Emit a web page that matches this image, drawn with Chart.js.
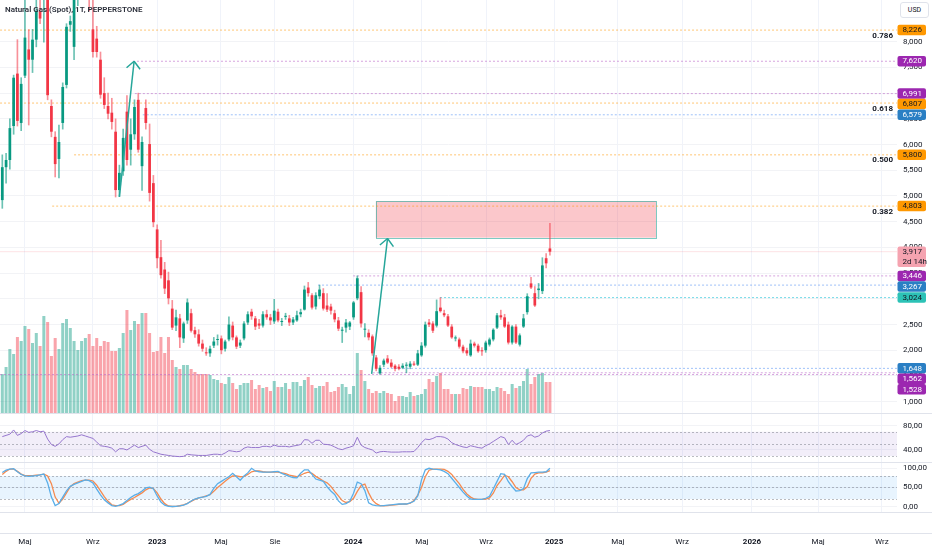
<!DOCTYPE html>
<html lang="pl">
<head>
<meta charset="utf-8">
<title>Natural Gas (Spot), 1T, PEPPERSTONE</title>
<script src="https://cdn.jsdelivr.net/npm/chart.js@4.4.1/dist/chart.umd.min.js"></script>
<style>
  html, body { margin: 0; padding: 0; background: #ffffff; }
  #wrap { position: relative; width: 932px; height: 550px; overflow: hidden; font-family: Roboto, sans-serif; }
  #wrap canvas { position: absolute; left: 0; }
  #title { position: absolute; left: 5px; top: 5px; font-size: 8px; font-weight: 600; color: #2a2e39; white-space: nowrap; }
  #usd { position: absolute; left: 900px; top: 2px; width: 29px; height: 16px; box-sizing: border-box; border: 1px solid #e0e3eb; border-radius: 3px; font-size: 7px; line-height: 14px; text-align: center; color: #131722; background: #fff; }
</style>
</head>
<body>
<div id="wrap">
  <canvas id="priceChart" width="932" height="413" style="top:0"></canvas>
  <canvas id="rsiChart" width="932" height="49" style="top:413px"></canvas>
  <canvas id="stochChart" width="932" height="88" style="top:462px"></canvas>
  <div id="title">Natural Gas (Spot), 1T, PEPPERSTONE</div>
  <div id="usd">USD</div>
</div>
<script>
// Weekly candles, late Mar 2022 -> Dec 2024 (index = week number)
const open = [
  4920, 5560, 5700, 6360, 7380, 6420, 7340, 7850, 7650, 8040,
  8590, 8900, 9300, 6750, 6150, 5720, 6420, 7160, 8330, 7900,
  9000, 9300, 9600, 9800, 8240, 8060, 7650, 7000, 6750, 6620,
  6250, 5115, 5480, 6640, 5900, 6200, 6870, 5580, 6710, 6010,
  5250, 4350, 3810, 3570, 3360, 2810, 2480, 2620, 2230, 2580,
  2720, 2390, 2310, 2130, 1960, 1940, 2090, 2200, 2230, 2030,
  2210, 2480, 2250, 2090, 2230, 2540, 2750, 2620, 2520, 2480,
  2700, 2640, 2560, 2750, 2550, 2650, 2620, 2540, 2580, 2700,
  2790, 3220, 3070, 2850, 3050, 3110, 2870, 2850, 2720, 2580,
  2380, 2440, 2460, 2640, 3010, 3130, 2400, 2340, 2270, 1860,
  1550, 1720, 1840, 1760, 1700, 1680, 1660, 1700, 1680, 1740,
  1720, 1900, 2090, 2540, 2520, 2480, 2830, 2720, 2660, 2460,
  2230, 2210, 2070, 2000, 1900, 2130, 2090, 1990, 2000, 2110,
  2210, 2440, 2680, 2640, 2500, 2150, 2460, 2110, 2460, 2740,
  3300, 3110, 3170, 3150, 3790, 3980
];
const high = [
  5800, 5830, 6500, 7350, 8040, 7300, 8900, 8235, 8240, 8900,
  9000, 9600, 9400, 6870, 6250, 6380, 7200, 8350, 8500, 9200,
  9500, 9900, 10000, 9900, 9000, 8300, 7800, 7300, 7000, 6900,
  6500, 5600, 6300, 6950, 6500, 6870, 7000, 6150, 6870, 6400,
  5400, 4440, 4140, 3710, 3520, 2970, 2780, 2700, 2550, 3000,
  2800, 2450, 2400, 2200, 2050, 2080, 2250, 2300, 2280, 2200,
  2650, 2550, 2280, 2200, 2560, 2750, 2800, 2660, 2600, 2750,
  2780, 2700, 2990, 2800, 2620, 2720, 2680, 2640, 2760, 2800,
  3250, 3320, 3100, 3120, 3267, 3200, 3100, 2900, 2780, 2640,
  2450, 2600, 2560, 2950, 3446, 3240, 2520, 2400, 2300, 1900,
  1700, 1830, 1900, 1820, 1720, 1720, 1740, 1760, 1780, 1780,
  2000, 2150, 2550, 2600, 2560, 2980, 3024, 2780, 2700, 2500,
  2280, 2240, 2100, 2040, 2200, 2160, 2120, 2050, 2180, 2240,
  2420, 2720, 2780, 2700, 2550, 2480, 2500, 2320, 2700, 3100,
  3420, 3240, 3300, 3800, 3880, 4470
];
const low = [
  4760, 5250, 5520, 6200, 6360, 6270, 7300, 6380, 7400, 7900,
  8350, 7990, 6870, 6150, 5370, 5350, 6300, 7100, 8200, 7650,
  8700, 9000, 9200, 8600, 7700, 7700, 6900, 6700, 6500, 6300,
  4980, 4990, 5400, 5600, 5600, 6100, 5850, 5110, 6300, 4900,
  4400, 3600, 3400, 3100, 2900, 2400, 2380, 2050, 2150, 2520,
  2350, 2250, 2080, 1980, 1900, 1880, 2050, 2100, 1930, 1980,
  2180, 2200, 2030, 2050, 2200, 2500, 2600, 2400, 2420, 2450,
  2600, 2500, 2520, 2550, 2480, 2600, 2480, 2500, 2560, 2650,
  2780, 3050, 2800, 2800, 3000, 2780, 2750, 2700, 2550, 2380,
  2150, 2350, 2400, 2600, 2980, 2450, 2260, 2200, 1900, 1600,
  1528, 1680, 1740, 1660, 1600, 1620, 1640, 1562, 1640, 1700,
  1700, 1880, 2060, 2460, 2340, 2450, 2740, 2650, 2460, 2230,
  2180, 2040, 1950, 1900, 1880, 2060, 1960, 1900, 1960, 2080,
  2180, 2420, 2600, 2440, 2120, 2120, 2130, 2080, 2440, 2700,
  3200, 2850, 3000, 3100, 3600, 3850
];
const close = [
  5560, 5700, 6320, 7300, 6460, 7180, 8080, 7650, 8040, 8600,
  8450, 9300, 6960, 6250, 5620, 6050, 7120, 8290, 8400, 9000,
  9300, 9600, 9800, 9000, 7800, 7800, 6970, 6770, 6600, 6440,
  5115, 5450, 6130, 5700, 6200, 6730, 5900, 6050, 6420, 5060,
  4490, 3790, 3460, 3200, 3010, 2440, 2640, 2250, 2520, 2930,
  2380, 2310, 2130, 2030, 1940, 2030, 2170, 2210, 2000, 2170,
  2500, 2250, 2070, 2150, 2520, 2700, 2660, 2460, 2480, 2700,
  2640, 2580, 2770, 2580, 2560, 2670, 2540, 2600, 2680, 2740,
  3180, 3110, 2830, 3070, 3180, 2810, 2790, 2770, 2600, 2420,
  2400, 2540, 2540, 2930, 3400, 2520, 2400, 2250, 1940, 1640,
  1660, 1800, 1760, 1680, 1640, 1640, 1700, 1700, 1740, 1720,
  1940, 2090, 2500, 2500, 2380, 2760, 2760, 2680, 2480, 2250,
  2230, 2070, 1980, 1940, 2130, 2090, 1980, 1980, 2150, 2210,
  2400, 2680, 2640, 2460, 2150, 2460, 2150, 2290, 2620, 3050,
  3220, 2870, 3200, 3650, 3690, 3917
];
const volume = [
  39, 46, 64, 59, 76, 72, 87, 84, 70, 80,
  67, 97, 91, 57, 75, 64, 90, 94, 85, 72,
  63, 72, 75, 79, 67, 75, 67, 72, 71, 62,
  62, 65, 80, 103, 83, 92, 89, 100, 100, 80,
  61, 62, 76, 60, 76, 53, 46, 44, 48, 48,
  44, 41, 39, 39, 39, 38, 34, 33, 30, 29,
  36, 30, 24, 28, 30, 30, 33, 24, 28, 25,
  26, 22, 32, 26, 26, 30, 24, 31, 31, 27,
  33, 36, 28, 25, 27, 27, 31, 21, 22, 26,
  29, 26, 19, 27, 60, 43, 32, 24, 20, 22,
  20, 22, 20, 19, 12, 17, 17, 16, 21, 17,
  18, 19, 24, 34, 31, 37, 40, 24, 24, 19,
  19, 19, 25, 24, 27, 26, 26, 26, 24, 24,
  22, 26, 25, 22, 19, 29, 25, 27, 32, 44,
  29, 36, 39, 40, 31, 31
];
const rsi = [
  62, 64, 66, 73, 64, 67, 72, 69, 70, 72,
  70, 71, 58, 49, 46, 50, 57, 62, 61, 62,
  63, 65, 63, 61, 59, 53, 47, 46, 45, 43,
  37, 42, 42, 40, 44, 48, 44, 46, 48, 41,
  37, 35, 33, 32, 31, 30, 29.5, 29, 29.5, 33,
  32, 31.5, 31, 31, 31, 32, 33, 33, 32, 35,
  39, 38, 37, 38, 43, 45, 44, 44, 44, 46,
  46, 45, 48, 46, 46, 46, 45, 46.5, 47.5, 49,
  57, 56.5, 51, 56, 56, 49.5, 49, 48, 45, 42,
  40.5, 43, 44.6, 47, 61, 48, 44, 42, 40, 35,
  37, 37.6, 37, 36.5, 36.5, 36.5, 37, 37, 37, 37.5,
  44, 52, 58, 57, 59, 62, 62, 61, 58, 52,
  49, 47, 45, 44, 47, 45.5, 44, 43, 47, 50,
  54, 58, 62, 60, 49, 56, 49, 52, 56, 63,
  65, 61, 63, 68, 71, 72
];
const stochK = [
  89, 95, 98, 99, 91, 84, 80, 79, 80, 81,
  83, 85, 62, 25, 3, 8, 25, 41, 53, 58,
  62, 66, 70, 68, 62, 46, 31, 18, 10, 3,
  1, 4, 8, 16, 24, 30, 34, 41, 49, 51,
  47, 28, 12, 4, 1, 0.5, 1, 2, 4, 8,
  15, 20, 23, 25, 27, 32, 48, 60, 66, 72,
  78, 87, 78, 69, 80, 88, 100, 93, 91, 90,
  90, 90, 91, 92, 87, 83, 79, 76, 75, 87,
  96, 96, 84, 72, 69, 66, 52, 41, 32, 15,
  6, 8, 14, 35, 64, 60, 42, 10, 5, 3,
  2, 3, 4, 5, 6, 7, 7, 7, 10, 14,
  28, 70, 96, 100, 98, 97, 96, 92, 86, 74,
  62, 50, 38, 28, 20, 19, 19, 19, 22, 27,
  46, 66, 86, 84, 65, 52, 41, 42, 47, 73,
  88, 89, 90, 90, 91, 100
];
const stochD = [
  84, 92, 98, 98, 92, 85, 81, 81, 81, 82,
  83, 85, 80, 60, 25, 9, 20, 36, 52, 60,
  64, 68, 69, 69, 67, 56, 41, 26, 14, 5,
  3, 3, 6, 13, 19, 24, 30, 36, 44, 49,
  47, 36, 20, 8, 2, 0.5, 1, 2.5, 5, 9,
  14, 19, 23, 25, 28, 31, 40, 50, 58, 66,
  74, 80, 80, 78, 79, 84, 91, 93, 93, 91,
  90, 90, 90, 90, 88, 86, 82, 80, 78, 82,
  87, 90, 87, 79, 73, 67, 62, 53, 40, 28,
  16, 11, 13, 22, 40, 55, 59, 36, 17, 8,
  3, 2.5, 3, 4, 5, 6, 6.5, 7, 9, 16,
  30, 50, 78, 95, 98, 98, 98, 97, 92, 84,
  72, 60, 45, 33, 25, 20, 19, 19, 20, 23,
  35, 55, 68, 82, 78, 65, 50, 44, 44, 52,
  74, 85, 88, 88, 90, 94
];

// Time axis labels (week index where each month/year label sits)
const tickLabels = ['Maj', 'Wrz', '2023', 'Maj', 'Sie', '2024', 'Maj', 'Wrz', '2025', 'Maj', 'Wrz', '2026', 'Maj', 'Wrz'];
const tickWeeks = [6.0, 24.0, 41.0, 57.9, 72.2, 92.9, 111.1, 128.1, 146.1, 163.0, 180.0, 198.5, 216.0, 232.9];
const priceTicks = [1000, 1500, 2000, 2500, 3000, 3500, 4000, 4500, 5000, 5500, 6000, 6500, 7000, 7500, 8000];
const rsiTicks = [40, 80];
const stochTicks = [0, 50, 100];
const rsiLevels = [70, 50, 30];
const stochLevels = [80, 50, 20];

// Drawings on the price pane
const levelPrices = [8226, 7620, 6991, 6807, 6579, 5800, 4803, 3446, 3267, 3024, 1648, 1562, 1528];
const levelFrom = [-0.6, 34.6, 35.1, -0.6, 37.2, 19.0, 13.2, 92.9, 83.6, 115.9, 100.8, 98.1, -0.6];
const levelKinds = ['fib', 'purple', 'purple', 'fib', 'blue', 'fib', 'fib', 'purple', 'blue', 'teal', 'blue', 'purple', 'purple'];
const fibRatios = ['0.786', '0.618', '0.500', '0.382'];
const fibPrices = [8226, 6807, 5800, 4803];
const arrowFrom = [[31.0, 4984], [97.8, 1540]];
const arrowTo = [[34.9, 7620], [102.0, 4173]];
const boxWeeks = [98.9, 173.1];
const boxPrices = [4900, 4190];
const barCountdown = '2d 14h';

// ---- styling ----
Chart.defaults.font.family = 'Roboto, sans-serif';
Chart.defaults.font.size = 8;
Chart.defaults.color = '#131722';

const X_MIN = -0.61, X_MAX = 236.9, AXIS_W = 35;
const UP = '#089981', DOWN = '#f23645';
const levelLine = { fib: 'rgba(255, 152, 0, 0.55)', purple: 'rgba(186, 104, 200, 0.6)', blue: 'rgba(66, 133, 244, 0.5)', teal: 'rgba(0, 188, 212, 0.55)' };
const tagStyle = { fib: ['#ff9800', '#131722'], purple: ['#9c27b0', '#ffffff'], blue: ['#2a7fc4', '#ffffff'], teal: ['#2cc2b6', '#131722'], last: ['#f5a3b0', '#131722'] };

const weeks = close.map((_, i) => i);
const isUp = close.map((c, i) => c >= open[i]);
const fmtPrice = v => v.toLocaleString('en-US');
const fmtPct = v => v.toFixed(2).replace('.', ',');

function weekAxis(showLabels) {
    return {
        type: 'linear',
        min: X_MIN,
        max: X_MAX,
        offset: false,
        grid: { color: '#f0f3fa', drawTicks: false, offset: false },
        border: { display: false },
        afterBuildTicks: axis => { axis.ticks = tickWeeks.map(v => ({ value: v })); },
        afterFit: axis => { axis.height = showLabels ? 38 : 0; axis.paddingLeft = 0; axis.paddingRight = 0; },
        ticks: {
            display: showLabels,
            autoSkip: false,
            maxRotation: 0,
            padding: 25,
            callback: (v, i) => tickLabels[i],
            font: ctx => ({ size: 8, weight: /^\d{4}$/.test(tickLabels[ctx.index]) ? 'bold' : 'normal' })
        }
    };
}

function valueAxis(min, max, ticks, fmt) {
    return {
        position: 'right',
        min: min,
        max: max,
        grid: { color: '#f2f3f6', drawTicks: false },
        border: { display: false },
        afterBuildTicks: axis => { axis.ticks = ticks.map(v => ({ value: v })); },
        afterFit: axis => { axis.width = AXIS_W; axis.paddingTop = 0; axis.paddingBottom = 0; },
        ticks: { padding: 6, crossAlign: 'near', callback: fmt }
    };
}

const baseOptions = {
    responsive: false,
    animation: false,
    events: [],
    layout: { padding: 0 },
    plugins: { legend: { display: false }, tooltip: { enabled: false } }
};

// Pane separators (light grey lines across the full width)
function separators(withAxisGap) {
    return {
        id: 'separators',
        afterDraw(chart) {
            const { ctx, width, chartArea: a } = chart;
            const ys = [0.5];
            if (withAxisGap) ys.push(a.bottom + 0.5, a.bottom + 21.5);
            ctx.save();
            ctx.strokeStyle = '#e0e3eb';
            ctx.lineWidth = 1;
            ys.forEach(py => {
                ctx.beginPath();
                ctx.moveTo(0, py);
                ctx.lineTo(width, py);
                ctx.stroke();
            });
            ctx.restore();
        }
    };
}

// Oscillator band + dashed guide levels
function guides(levels, bandColor) {
    return {
        id: 'guides',
        beforeDatasetsDraw(chart) {
            const { ctx, chartArea: a, scales: { y } } = chart;
            const top = y.getPixelForValue(levels[0]);
            const bottom = y.getPixelForValue(levels[levels.length - 1]);
            ctx.save();
            ctx.fillStyle = bandColor;
            ctx.fillRect(a.left, top, a.right - a.left, bottom - top);
            ctx.strokeStyle = 'rgba(120, 123, 134, 0.5)';
            ctx.lineWidth = 1;
            ctx.setLineDash([2, 2]);
            levels.forEach(v => {
                const py = Math.round(y.getPixelForValue(v)) + 0.5;
                ctx.beginPath();
                ctx.moveTo(a.left, py);
                ctx.lineTo(a.right, py);
                ctx.stroke();
            });
            ctx.restore();
        }
    };
}

// Target box, arrow heads, fib ratios and price tags on the price pane
const priceOverlay = {
    id: 'priceOverlay',
    beforeDatasetsDraw(chart) {
        const { ctx, scales: { x, y } } = chart;
        const x0 = x.getPixelForValue(boxWeeks[0]), x1 = x.getPixelForValue(boxWeeks[1]);
        const y0 = y.getPixelForValue(boxPrices[0]), y1 = y.getPixelForValue(boxPrices[1]);
        ctx.save();
        ctx.fillStyle = 'rgba(242, 54, 69, 0.28)';
        ctx.fillRect(x0, y0, x1 - x0, y1 - y0);
        ctx.strokeStyle = 'rgba(38, 166, 154, 0.6)';
        ctx.lineWidth = 1;
        ctx.strokeRect(Math.round(x0) + 0.5, Math.round(y0) + 0.5, Math.round(x1 - x0), Math.round(y1 - y0));
        ctx.restore();
    },
    afterDatasetsDraw(chart) {
        const { ctx, chartArea: a, scales: { x, y } } = chart;
        ctx.save();
        ctx.strokeStyle = '#26a69a';
        ctx.lineWidth = 1.5;
        arrowTo.forEach((tip, i) => {
            const from = arrowFrom[i];
            const tx = x.getPixelForValue(tip[0]), ty = y.getPixelForValue(tip[1]);
            const fx = x.getPixelForValue(from[0]), fy = y.getPixelForValue(from[1]);
            const ang = Math.atan2(ty - fy, tx - fx);
            ctx.beginPath();
            [-1, 1].forEach(s => {
                ctx.moveTo(tx, ty);
                ctx.lineTo(tx - 10 * Math.cos(ang + s * 0.75), ty - 10 * Math.sin(ang + s * 0.75));
            });
            ctx.stroke();
        });
        ctx.font = 'bold 8px Roboto, sans-serif';
        ctx.textAlign = 'right';
        ctx.textBaseline = 'middle';
        ctx.fillStyle = '#131722';
        fibPrices.forEach((p, i) => ctx.fillText(fibRatios[i], a.right - 4, y.getPixelForValue(p) + 5.5));
        ctx.restore();
    },
    afterDraw(chart) {
        const { ctx, chartArea: a, scales: { y } } = chart;
        const last = close.length - 1;
        const tags = levelPrices.map((p, i) => ({ price: p, kind: levelKinds[i], rows: [fmtPrice(p)] }));
        tags.push({ price: close[last], kind: 'last', rows: [fmtPrice(close[last]), barCountdown] });
        tags.forEach(t => { t.py = y.getPixelForValue(t.price); });
        tags.sort((m, n) => m.py - n.py);
        let floor = -Infinity;
        ctx.save();
        ctx.font = '8px Roboto, sans-serif';
        ctx.textBaseline = 'middle';
        ctx.textAlign = 'left';
        tags.forEach(t => {
            const h = t.rows.length === 1 ? 10.5 : 20.5;
            const top = Math.max(t.py - 5.25, floor);
            floor = top + h;
            const [bg, fg] = tagStyle[t.kind];
            ctx.fillStyle = bg;
            ctx.beginPath();
            ctx.roundRect(a.right + 0.5, top, 28.5, h, 2);
            ctx.fill();
            ctx.fillStyle = fg;
            t.rows.forEach((r, k) => ctx.fillText(r, a.right + 5.5, top + 5.5 + k * 10));
        });
        ctx.restore();
    }
};

// ---- price pane ----
const levelDatasets = levelPrices.map((p, i) => ({
    type: 'line',
    data: [{ x: levelFrom[i], y: p }, { x: X_MAX, y: p }],
    borderColor: levelLine[levelKinds[i]],
    borderWidth: 1,
    borderDash: [2, 2],
    pointRadius: 0,
    order: 3
}));

const arrowDatasets = arrowFrom.map((f, i) => ({
    type: 'line',
    data: [{ x: f[0], y: f[1] }, { x: arrowTo[i][0], y: arrowTo[i][1] }],
    borderColor: '#26a69a',
    borderWidth: 1.5,
    pointRadius: 0,
    order: -1
}));

new Chart(document.getElementById('priceChart'), {
    type: 'bar',
    data: {
        datasets: [
            {
                label: 'Wicks',
                data: weeks.map(i => ({ x: i, y: [low[i], high[i]] })),
                backgroundColor: weeks.map(i => isUp[i] ? 'rgba(8, 153, 129, 0.6)' : 'rgba(242, 54, 69, 0.55)'),
                barThickness: 1,
                grouped: false,
                order: 1
            },
            {
                label: 'Bodies',
                data: weeks.map(i => ({ x: i, y: [open[i], close[i]] })),
                backgroundColor: weeks.map(i => isUp[i] ? UP : DOWN),
                categoryPercentage: 1,
                barPercentage: 0.72,
                minBarLength: 1,
                grouped: false,
                order: 0
            },
            {
                label: 'Volume',
                yAxisID: 'vol',
                data: weeks.map(i => ({ x: i, y: volume[i] })),
                backgroundColor: weeks.map(i => isUp[i] ? 'rgba(8, 153, 129, 0.45)' : 'rgba(242, 54, 69, 0.45)'),
                categoryPercentage: 1,
                barPercentage: 0.8,
                grouped: false,
                order: 6
            },
            {
                type: 'line',
                label: 'Last price',
                data: [{ x: X_MIN, y: close[close.length - 1] }, { x: X_MAX, y: close[close.length - 1] }],
                borderColor: 'rgba(242, 54, 69, 0.14)',
                borderWidth: 1,
                pointRadius: 0,
                order: 5
            },
            ...levelDatasets,
            ...arrowDatasets
        ]
    },
    options: {
        ...baseOptions,
        scales: {
            x: weekAxis(false),
            y: valueAxis(780, 8811, priceTicks, fmtPrice),
            vol: { axis: 'y', type: 'linear', display: false, min: 0, max: 413 }
        }
    },
    plugins: [priceOverlay]
});

// ---- RSI pane ----
new Chart(document.getElementById('rsiChart'), {
    type: 'line',
    data: {
        datasets: [{
            label: 'RSI',
            data: weeks.map(i => ({ x: i, y: rsi[i] })),
            borderColor: '#9575cd',
            borderWidth: 1,
            pointRadius: 0
        }]
    },
    options: {
        ...baseOptions,
        scales: { x: weekAxis(false), y: valueAxis(20.2, 100.9, rsiTicks, fmtPct) }
    },
    plugins: [guides(rsiLevels, 'rgba(126, 87, 194, 0.1)'), separators(false)]
});

// ---- Stochastic pane + time axis ----
new Chart(document.getElementById('stochChart'), {
    type: 'line',
    data: {
        datasets: [
            {
                label: '%K',
                data: weeks.map(i => ({ x: i, y: stochK[i] })),
                borderColor: '#5aaee8',
                borderWidth: 1.3,
                pointRadius: 0
            },
            {
                label: '%D',
                data: weeks.map(i => ({ x: i, y: stochD[i] })),
                borderColor: '#f68a4f',
                borderWidth: 1.3,
                pointRadius: 0
            }
        ]
    },
    options: {
        ...baseOptions,
        scales: { x: weekAxis(true), y: valueAxis(-13.8, 116.4, stochTicks, fmtPct) }
    },
    plugins: [guides(stochLevels, 'rgba(33, 150, 243, 0.1)'), separators(true)]
});
</script>
</body>
</html>
